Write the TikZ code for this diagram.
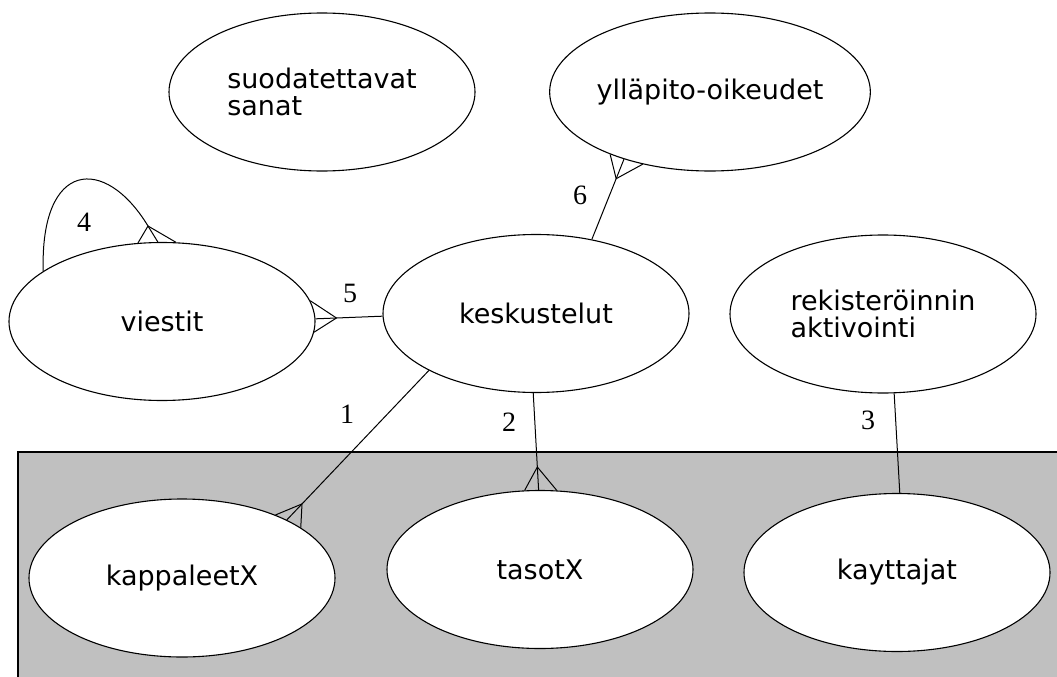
\documentclass[tikz,border=0pt]{standalone}
\usepackage{fontspec}
\setmainfont{DejaVu Sans}
\newfontfamily\numfont{Liberation Serif}
\usetikzlibrary{shapes.geometric,calc}
\definecolor{panel}{HTML}{C0C0C0}
\tikzset{
  entity/.style={ellipse, draw, fill=white, line width=1.1pt,
    minimum width=306pt, minimum height=158pt, inner sep=0pt,
    align=left, font=\fontsize{27}{27.5}\selectfont},
  rel/.style={line width=1pt},
  num/.style={font=\numfont\fontsize{28}{28}\selectfont, inner sep=0pt},
}
\begin{document}
\begin{tikzpicture}[x=1pt,y=-1pt]
\useasboundingbox (0,0) rectangle (1057,677);
\clip (0,0) rectangle (1057,677);
\fill[white] (0,0) rectangle (1057,677);
% grey panel behind the lower row of entities
\draw[fill=panel, line width=1.1pt] (18,452) rectangle (1075,695);

% entities
\node[entity] (suod) at (322,92)    {suodatettavat\\sanat};
\node[entity] (yll)  at (710,92)    {ylläpito-oikeudet};
\node[entity] (vie)  at (162,321.5) {viestit};
\node[entity] (kesk) at (536,313.5) {keskustelut};
\node[entity] (rek)  at (883,314)   {rekisteröinnin\\aktivointi};
\node[entity] (kapp) at (182,578)   {kappaleetX};
\node[entity] (taso) at (540,569.5) {tasotX};
\node[entity] (kayt) at (897,572.5) {kayttajat};

% 1: keskustelut -< kappaleetX
\draw[rel] (kesk.208.5) -- (kapp.29);
\draw[rel] (kapp.34) -- ($(kapp.29)!22pt!(kesk.208.5)$) -- (kapp.23);

% 2: keskustelut -< tasotX
\draw[rel] (kesk.268) -- (taso.91.5);
\draw[rel] (taso.101) -- ($(taso.91.5)!23pt!(kesk.268)$) -- (taso.78);

% 3: rekisteröinnin aktivointi -- kayttajat
\draw[rel] (rek.278.6) -- (kayt.88.6);

% 4: viestit self relation
\coordinate (loopapex) at (148,226);
\draw[rel] (vie.157.6) .. controls (40,160) and (105,155) .. (loopapex) -- (vie.93.6);
\draw[rel] (vie.107) -- (loopapex) -- (vie.80);

% 5: keskustelut -< viestit
\draw[rel] (kesk.181.5) -- (vie.1.5);
\draw[rel] (vie.8) -- ($(vie.1.5)!21pt!(kesk.181.5)$) -- (vie.356);

% 6: keskustelut -< ylläpito-oikeudet
\draw[rel] (kesk.53.9) -- (yll.218.9);
\draw[rel] (yll.212.2) -- ($(yll.218.9)!21pt!(kesk.53.9)$) -- (yll.227.1);

% relation numbers
\node[num] (n1) at (347,414) {1};
\node[num] (n2) at (509,422) {2};
\node[num] (n3) at (868,420) {3};
\node[num] (n4) at (84,222)  {4};
\node[num] (n5) at (350,293) {5};
\node[num] (n6) at (580,195) {6};
\end{tikzpicture}
\end{document}
